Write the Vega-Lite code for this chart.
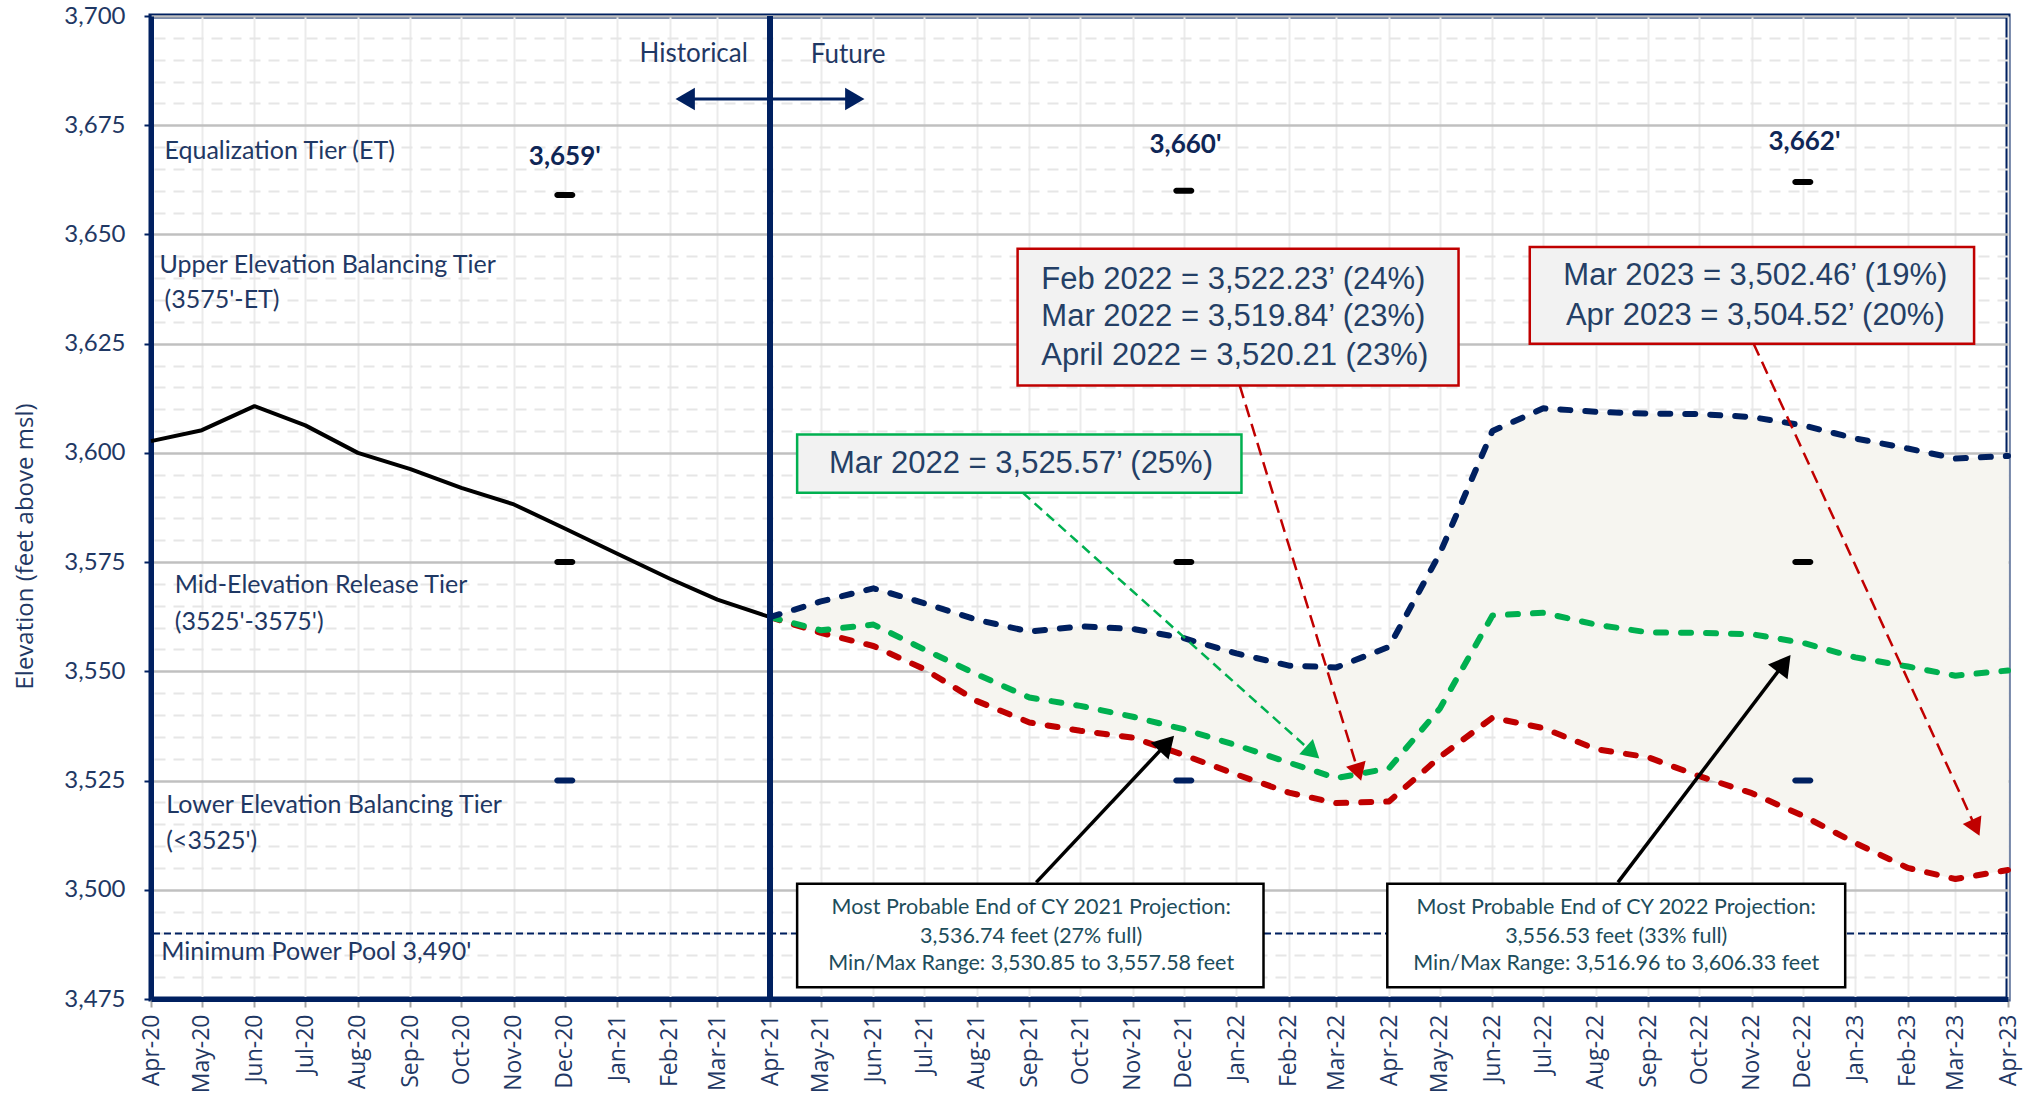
{
  "$schema": "https://vega.github.io/schema/vega-lite/v6.json",
  "width": 1857,
  "height": 983,
  "autosize": {"type": "none"},
  "padding": {"left": 151, "top": 16, "right": 23, "bottom": 100},
  "background": "white",
  "config": {"view": {"stroke": "#002060", "strokeWidth": 5}, "font": "Lato"},
  "resolve": {"axis": {"y": "independent", "x": "independent"}},
  "datasets": {
    "series": [
      {"date": "2020-04-01", "hist": 3602.7},
      {"date": "2020-05-01", "hist": 3605.2},
      {"date": "2020-06-01", "hist": 3610.7},
      {"date": "2020-07-01", "hist": 3606.3},
      {"date": "2020-08-01", "hist": 3600.0},
      {"date": "2020-09-01", "hist": 3596.3},
      {"date": "2020-10-01", "hist": 3592.0},
      {"date": "2020-11-01", "hist": 3588.2},
      {"date": "2020-12-01", "hist": 3582.7},
      {"date": "2021-01-01", "hist": 3576.9},
      {"date": "2021-02-01", "hist": 3571.2},
      {"date": "2021-03-01", "hist": 3566.4},
      {"date": "2021-04-01", "hist": 3562.4, "max": 3562.4, "mp": 3562.4, "min": 3562.4},
      {"date": "2021-05-01", "max": 3566.0, "mp": 3559.4, "min": 3558.8},
      {"date": "2021-06-01", "max": 3569.0, "mp": 3560.7, "min": 3555.8},
      {"date": "2021-07-01", "max": 3565.6, "mp": 3555.0, "min": 3550.5},
      {"date": "2021-08-01", "max": 3561.8, "mp": 3549.3, "min": 3543.2},
      {"date": "2021-09-01", "max": 3559.1, "mp": 3544.0, "min": 3538.3},
      {"date": "2021-10-01", "max": 3560.3, "mp": 3542.1, "min": 3536.4},
      {"date": "2021-11-01", "max": 3559.7, "mp": 3539.6, "min": 3534.8},
      {"date": "2021-12-01", "max": 3557.58, "mp": 3536.74, "min": 3530.85},
      {"date": "2022-01-01", "max": 3554.1, "mp": 3533.1, "min": 3526.4},
      {"date": "2022-02-01", "max": 3551.3, "mp": 3529.1, "min": 3522.23},
      {"date": "2022-03-01", "max": 3550.9, "mp": 3525.57, "min": 3519.84},
      {"date": "2022-04-01", "max": 3555.6, "mp": 3527.8, "min": 3520.21},
      {"date": "2022-05-01", "max": 3577.0, "mp": 3541.5, "min": 3530.4},
      {"date": "2022-06-01", "max": 3605.0, "mp": 3562.8, "min": 3539.4},
      {"date": "2022-07-01", "max": 3610.2, "mp": 3563.4, "min": 3537.0},
      {"date": "2022-08-01", "max": 3609.4, "mp": 3560.7, "min": 3532.2},
      {"date": "2022-09-01", "max": 3609.0, "mp": 3558.9, "min": 3530.3},
      {"date": "2022-10-01", "max": 3608.9, "mp": 3558.8, "min": 3526.0},
      {"date": "2022-11-01", "max": 3608.2, "mp": 3558.5, "min": 3522.1},
      {"date": "2022-12-01", "max": 3606.33, "mp": 3556.53, "min": 3516.96},
      {"date": "2023-01-01", "max": 3603.3, "mp": 3553.2, "min": 3510.7},
      {"date": "2023-02-01", "max": 3601.0, "mp": 3551.1, "min": 3505.0},
      {"date": "2023-03-01", "max": 3598.7, "mp": 3549.0, "min": 3502.46},
      {"date": "2023-04-01", "max": 3599.3, "mp": 3550.2, "min": 3504.52}
    ],
    "markers": [
      {"date": "2020-12-01", "elev": 3659, "kind": "upper"},
      {"date": "2020-12-01", "elev": 3575, "kind": "upper"},
      {"date": "2020-12-01", "elev": 3525, "kind": "lower"},
      {"date": "2021-12-01", "elev": 3660, "kind": "upper"},
      {"date": "2021-12-01", "elev": 3575, "kind": "upper"},
      {"date": "2021-12-01", "elev": 3525, "kind": "lower"},
      {"date": "2022-12-01", "elev": 3662, "kind": "upper"},
      {"date": "2022-12-01", "elev": 3575, "kind": "upper"},
      {"date": "2022-12-01", "elev": 3525, "kind": "lower"}
    ],
    "markerLabels": [
      {"date": "2020-12-01", "elev": 3667.8, "label": "3,659'"},
      {"date": "2021-12-02", "elev": 3670.4, "label": "3,660'"},
      {"date": "2022-12-02", "elev": 3671.1, "label": "3,662'"}
    ],
    "tiers": [
      {"date": "2020-04-09", "elev": 3669.2, "label": "Equalization Tier (ET)"},
      {"date": "2020-04-06", "elev": 3642.9, "label": "Upper Elevation Balancing Tier"},
      {"date": "2020-04-09", "elev": 3634.9, "label": "(3575'-ET)"},
      {"date": "2020-04-15", "elev": 3569.7, "label": "Mid-Elevation Release Tier"},
      {"date": "2020-04-15", "elev": 3561.3, "label": "(3525'-3575')"},
      {"date": "2020-04-10", "elev": 3519.4, "label": "Lower Elevation Balancing Tier"},
      {"date": "2020-04-10", "elev": 3511.1, "label": "(<3525')"},
      {"date": "2020-04-07", "elev": 3485.8, "label": "Minimum Power Pool  3,490'"}
    ],
    "periods": [
      {"date": "2021-02-15", "elev": 3691.4, "label": "Historical"},
      {"date": "2021-05-17", "elev": 3691.0, "label": "Future"}
    ],
    "refs": [{"elev": 3490, "date": "2021-04-01"}],
    "dbl": [
      {"date": "2021-02-10", "date2": "2021-05-21", "elev": 3681.0}
    ],
    "dblHeads": [
      {"date": "2021-02-10", "elev": 3681.0, "dir": "left"},
      {"date": "2021-05-21", "elev": 3681.0, "dir": "right"}
    ],
    "boxes": [
      {"id": "green", "date": "2021-04-17", "date2": "2022-01-04", "elev": 3604.2, "elev2": 3590.9},
      {"id": "red1", "date": "2021-08-25", "date2": "2022-05-12", "elev": 3646.7, "elev2": 3615.4},
      {"id": "red2", "date": "2022-06-23", "date2": "2023-03-12", "elev": 3647.1, "elev2": 3625.0},
      {"id": "black1", "date": "2021-04-17", "date2": "2022-01-17", "elev": 3501.4, "elev2": 3477.7},
      {"id": "black2", "date": "2022-03-31", "date2": "2022-12-26", "elev": 3501.4, "elev2": 3477.7}
    ],
    "arrows": [
      {"id": "green", "date": "2021-08-28", "elev": 3590.9, "date2": "2022-02-15", "elev2": 3531.4},
      {"id": "red1", "date": "2022-01-03", "elev": 3615.4, "date2": "2022-03-14", "elev2": 3526.9},
      {"id": "red2", "date": "2022-11-02", "elev": 3625.0, "date2": "2023-03-13", "elev2": 3514.2},
      {"id": "black1", "date": "2021-09-05", "elev": 3501.7, "date2": "2021-11-21", "elev2": 3533.5},
      {"id": "black2", "date": "2022-08-14", "elev": 3501.7, "date2": "2022-11-20", "elev2": 3551.8}
    ],
    "boxText": [
      {"id": "green", "date": "2021-08-27", "elev": 3597.4, "label": "Mar 2022 = 3,525.57’ (25%)"},
      {"id": "red1", "date": "2021-09-08", "elev": 3639.6, "label": "Feb 2022 = 3,522.23’ (24%)"},
      {"id": "red1", "date": "2021-09-08", "elev": 3631.1, "label": "Mar 2022 = 3,519.84’ (23%)"},
      {"id": "red1", "date": "2021-09-08", "elev": 3622.1, "label": "April 2022 = 3,520.21 (23%)"},
      {"id": "red2", "date": "2022-11-03", "elev": 3640.4, "label": "Mar 2023 = 3,502.46’ (19%)"},
      {"id": "red2", "date": "2022-11-03", "elev": 3631.4, "label": "Apr 2023 = 3,504.52’ (20%)"},
      {"id": "black1", "date": "2021-09-02", "elev": 3495.8, "label": "Most Probable End of CY 2021 Projection:"},
      {"id": "black1", "date": "2021-09-02", "elev": 3489.2, "label": "3,536.74 feet (27% full)"},
      {"id": "black1", "date": "2021-09-02", "elev": 3482.9, "label": "Min/Max Range: 3,530.85  to 3,557.58  feet"},
      {"id": "black2", "date": "2022-08-13", "elev": 3495.8, "label": "Most Probable End of CY 2022 Projection:"},
      {"id": "black2", "date": "2022-08-13", "elev": 3489.2, "label": "3,556.53  feet (33% full)"},
      {"id": "black2", "date": "2022-08-13", "elev": 3482.9, "label": "Min/Max Range: 3,516.96 to 3,606.33  feet"}
    ]
  },
  "layer": [
    {
      "data": {"name": "series"},
      "mark": {"type": "area", "color": "#F6F5F0"},
      "encoding": {
        "x": {
          "field": "date", "type": "temporal",
          "scale": {"type": "utc", "domain": [{"year": 2020, "month": 4, "date": 1, "utc": true}, {"year": 2023, "month": 4, "date": 1, "utc": true}]},
          "axis": {
            "title": null, "format": "%b-%y", "tickCount": {"interval": "month", "step": 1},
            "labelAngle": -90, "labelAlign": "right", "labelBaseline": "middle",
            "labelFont": "Open Sans", "labelFontSize": 23, "labelColor": "#1F3864",
            "labelPadding": 7, "labelOverlap": false, "labelFlush": false,
            "tickColor": "#A6A6A6", "tickSize": 8, "tickWidth": 2,
            "domainColor": "#002060", "domainWidth": 5,
            "grid": true, "gridColor": "#EBEBEB", "gridWidth": 2
          }
        },
        "y": {
          "field": "max", "type": "quantitative",
          "scale": {"domain": [3475, 3700], "nice": false, "zero": false},
          "axis": {
            "orient": "left",
            "values": [3475, 3500, 3525, 3550, 3575, 3600, 3625, 3650, 3675, 3700],
            "format": ",d", "labelFont": "Lato", "labelFontSize": 24, "labelColor": "#1F3864",
            "labelPadding": 19, "tickColor": "#002060", "tickSize": 7, "tickWidth": 2,
            "domainColor": "#002060", "domainWidth": 5,
            "grid": true, "gridColor": "#C0C0C0", "gridWidth": 2.5,
            "title": "Elevation (feet above msl)", "titleFont": "Open Sans", "titleFontSize": 24,
            "titleFontWeight": "normal", "titleColor": "#1F3864",
            "titleX": -126, "titleY": 530, "titleAngle": -90, "titleAlign": "center", "titleBaseline": "middle"
          }
        },
        "y2": {"field": "min"}
      }
    },
    {
      "data": {"name": "series"},
      "mark": {"type": "line", "color": "#000000", "strokeWidth": 4, "strokeJoin": "round"},
      "encoding": {
        "x": {"field": "date", "type": "temporal", "axis": null},
        "y": {
          "field": "hist", "type": "quantitative",
          "axis": {
            "orient": "right",
            "values": [3480, 3485, 3490, 3495, 3505, 3510, 3515, 3520, 3530, 3535, 3540, 3545, 3555, 3560, 3565, 3570, 3580, 3585, 3590, 3595, 3605, 3610, 3615, 3620, 3630, 3635, 3640, 3645, 3655, 3660, 3665, 3670, 3680, 3685, 3690, 3695],
            "grid": true, "gridColor": "#E6E6E6", "gridWidth": 2, "gridDash": [11, 8],
            "labels": false, "ticks": false, "domain": false, "title": null
          }
        }
      }
    },
    {
      "data": {"name": "refs"},
      "mark": {"type": "rule", "color": "#002060", "strokeWidth": 2, "strokeDash": [7, 4]},
      "encoding": {"y": {"field": "elev", "type": "quantitative", "axis": null}}
    },
    {
      "data": {"name": "series"},
      "mark": {"type": "line", "color": "#C00000", "strokeWidth": 6, "strokeDash": [10, 15], "strokeCap": "round", "strokeJoin": "round"},
      "encoding": {
        "x": {"field": "date", "type": "temporal", "axis": null},
        "y": {"field": "min", "type": "quantitative", "axis": null}
      }
    },
    {
      "data": {"name": "series"},
      "mark": {"type": "line", "color": "#00B050", "strokeWidth": 6, "strokeDash": [10, 15], "strokeCap": "round", "strokeJoin": "round"},
      "encoding": {
        "x": {"field": "date", "type": "temporal", "axis": null},
        "y": {"field": "mp", "type": "quantitative", "axis": null}
      }
    },
    {
      "data": {"name": "series"},
      "mark": {"type": "line", "color": "#002060", "strokeWidth": 6, "strokeDash": [10, 15], "strokeCap": "round", "strokeJoin": "round"},
      "encoding": {
        "x": {"field": "date", "type": "temporal", "axis": null},
        "y": {"field": "max", "type": "quantitative", "axis": null}
      }
    },
    {
      "data": {"name": "refs"},
      "mark": {"type": "rule", "color": "#002060", "strokeWidth": 6},
      "encoding": {"x": {"field": "date", "type": "temporal", "axis": null}}
    },
    {
      "data": {"name": "markers"},
      "mark": {"type": "tick", "orient": "horizontal", "size": 21, "thickness": 6, "cornerRadius": 3, "opacity": 1},
      "encoding": {
        "x": {"field": "date", "type": "temporal", "axis": null},
        "y": {"field": "elev", "type": "quantitative", "axis": null},
        "color": {"field": "kind", "type": "nominal", "scale": {"domain": ["upper", "lower"], "range": ["#000000", "#002060"]}, "legend": null}
      }
    },
    {
      "data": {"name": "markerLabels"},
      "mark": {"type": "text", "font": "Lato", "fontSize": 26, "fontWeight": "bold", "color": "#0F2656", "align": "center", "baseline": "middle"},
      "encoding": {
        "x": {"field": "date", "type": "temporal", "axis": null},
        "y": {"field": "elev", "type": "quantitative", "axis": null},
        "text": {"field": "label"}
      }
    },
    {
      "data": {"name": "tiers"},
      "mark": {"type": "text", "font": "Lato", "fontSize": 25, "color": "#1F3864", "align": "left", "baseline": "middle"},
      "encoding": {
        "x": {"field": "date", "type": "temporal", "axis": null},
        "y": {"field": "elev", "type": "quantitative", "axis": null},
        "text": {"field": "label"}
      }
    },
    {
      "data": {"name": "periods"},
      "mark": {"type": "text", "font": "Lato", "fontSize": 26, "color": "#1F3864", "align": "center", "baseline": "middle"},
      "encoding": {
        "x": {"field": "date", "type": "temporal", "axis": null},
        "y": {"field": "elev", "type": "quantitative", "axis": null},
        "text": {"field": "label"}
      }
    },
    {
      "data": {"name": "dbl"},
      "mark": {"type": "rule", "color": "#002060", "strokeWidth": 3},
      "encoding": {
        "x": {"field": "date", "type": "temporal", "axis": null},
        "x2": {"field": "date2"},
        "y": {"field": "elev", "type": "quantitative", "axis": null}
      }
    },
    {
      "data": {"name": "dblHeads"},
      "mark": {"type": "point", "filled": true, "size": 500, "color": "#002060", "opacity": 1},
      "encoding": {
        "x": {"field": "date", "type": "temporal", "axis": null},
        "y": {"field": "elev", "type": "quantitative", "axis": null},
        "shape": {"field": "dir", "type": "nominal", "scale": {"domain": ["left", "right"], "range": ["triangle-left", "triangle-right"]}, "legend": null}
      }
    },
    {
      "data": {"name": "boxes"},
      "mark": {"type": "rect", "strokeWidth": 2.5},
      "encoding": {
        "x": {"field": "date", "type": "temporal", "axis": null},
        "x2": {"field": "date2"},
        "y": {"field": "elev", "type": "quantitative", "axis": null},
        "y2": {"field": "elev2"},
        "stroke": {"field": "id", "type": "nominal", "scale": {"domain": ["green", "red1", "red2", "black1", "black2"], "range": ["#00B050", "#C00000", "#C00000", "#000000", "#000000"]}, "legend": null},
        "fill": {"field": "id", "type": "nominal", "scale": {"domain": ["green", "red1", "red2", "black1", "black2"], "range": ["#F2F2F2", "#F2F2F2", "#F2F2F2", "#FFFFFF", "#FFFFFF"]}, "legend": null}
      }
    },
    {
      "data": {"name": "boxText"},
      "transform": [{"filter": "datum.id === 'green' || datum.id === 'red2'"}],
      "mark": {"type": "text", "font": "Liberation Sans", "fontSize": 31, "color": "#243F66", "align": "center", "baseline": "middle"},
      "encoding": {
        "x": {"field": "date", "type": "temporal", "axis": null},
        "y": {"field": "elev", "type": "quantitative", "axis": null},
        "text": {"field": "label"}
      }
    },
    {
      "data": {"name": "boxText"},
      "transform": [{"filter": "datum.id === 'red1'"}],
      "mark": {"type": "text", "font": "Liberation Sans", "fontSize": 31, "color": "#243F66", "align": "left", "baseline": "middle"},
      "encoding": {
        "x": {"field": "date", "type": "temporal", "axis": null},
        "y": {"field": "elev", "type": "quantitative", "axis": null},
        "text": {"field": "label"}
      }
    },
    {
      "data": {"name": "boxText"},
      "transform": [{"filter": "datum.id === 'black1' || datum.id === 'black2'"}],
      "mark": {"type": "text", "font": "Lato", "fontSize": 21.5, "color": "#1D4D5B", "align": "center", "baseline": "middle"},
      "encoding": {
        "x": {"field": "date", "type": "temporal", "axis": null},
        "y": {"field": "elev", "type": "quantitative", "axis": null},
        "text": {"field": "label"}
      }
    },
    {
      "data": {"name": "arrows"},
      "transform": [{"filter": "datum.id === 'green'"}],
      "mark": {"type": "rule", "color": "#00B050", "strokeWidth": 2.5, "strokeDash": [10, 6]},
      "encoding": {
        "x": {"field": "date", "type": "temporal", "axis": null},
        "x2": {"field": "date2"},
        "y": {"field": "elev", "type": "quantitative", "axis": null},
        "y2": {"field": "elev2"}
      }
    },
    {
      "data": {"name": "arrows"},
      "transform": [{"filter": "datum.id === 'red1' || datum.id === 'red2'"}],
      "mark": {"type": "rule", "color": "#C00000", "strokeWidth": 2.5, "strokeDash": [13, 7]},
      "encoding": {
        "x": {"field": "date", "type": "temporal", "axis": null},
        "x2": {"field": "date2"},
        "y": {"field": "elev", "type": "quantitative", "axis": null},
        "y2": {"field": "elev2"}
      }
    },
    {
      "data": {"name": "arrows"},
      "transform": [{"filter": "datum.id === 'black1' || datum.id === 'black2'"}],
      "mark": {"type": "rule", "color": "#000000", "strokeWidth": 3.5},
      "encoding": {
        "x": {"field": "date", "type": "temporal", "axis": null},
        "x2": {"field": "date2"},
        "y": {"field": "elev", "type": "quantitative", "axis": null},
        "y2": {"field": "elev2"}
      }
    },
    {
      "data": {"name": "arrows"},
      "transform": [{"filter": "datum.id === 'green'"}],
      "mark": {"type": "point", "shape": "triangle-up", "filled": true, "opacity": 1, "size": 420, "angle": 131.8, "color": "#00B050"},
      "encoding": {
        "x": {"field": "date2", "type": "temporal", "axis": null},
        "y": {"field": "elev2", "type": "quantitative", "axis": null}
      }
    },
    {
      "data": {"name": "arrows"},
      "transform": [{"filter": "datum.id === 'red1'"}],
      "mark": {"type": "point", "shape": "triangle-up", "filled": true, "opacity": 1, "size": 420, "angle": 162.6, "color": "#C00000"},
      "encoding": {
        "x": {"field": "date2", "type": "temporal", "axis": null},
        "y": {"field": "elev2", "type": "quantitative", "axis": null}
      }
    },
    {
      "data": {"name": "arrows"},
      "transform": [{"filter": "datum.id === 'red2'"}],
      "mark": {"type": "point", "shape": "triangle-up", "filled": true, "opacity": 1, "size": 420, "angle": 155.2, "color": "#C00000"},
      "encoding": {
        "x": {"field": "date2", "type": "temporal", "axis": null},
        "y": {"field": "elev2", "type": "quantitative", "axis": null}
      }
    },
    {
      "data": {"name": "arrows"},
      "transform": [{"filter": "datum.id === 'black1'"}],
      "mark": {"type": "point", "shape": "triangle-up", "filled": true, "opacity": 1, "size": 600, "angle": 42.9, "color": "#000000"},
      "encoding": {
        "x": {"field": "date2", "type": "temporal", "axis": null},
        "y": {"field": "elev2", "type": "quantitative", "axis": null}
      }
    },
    {
      "data": {"name": "arrows"},
      "transform": [{"filter": "datum.id === 'black2'"}],
      "mark": {"type": "point", "shape": "triangle-up", "filled": true, "opacity": 1, "size": 600, "angle": 37.1, "color": "#000000"},
      "encoding": {
        "x": {"field": "date2", "type": "temporal", "axis": null},
        "y": {"field": "elev2", "type": "quantitative", "axis": null}
      }
    }
  ]
}
